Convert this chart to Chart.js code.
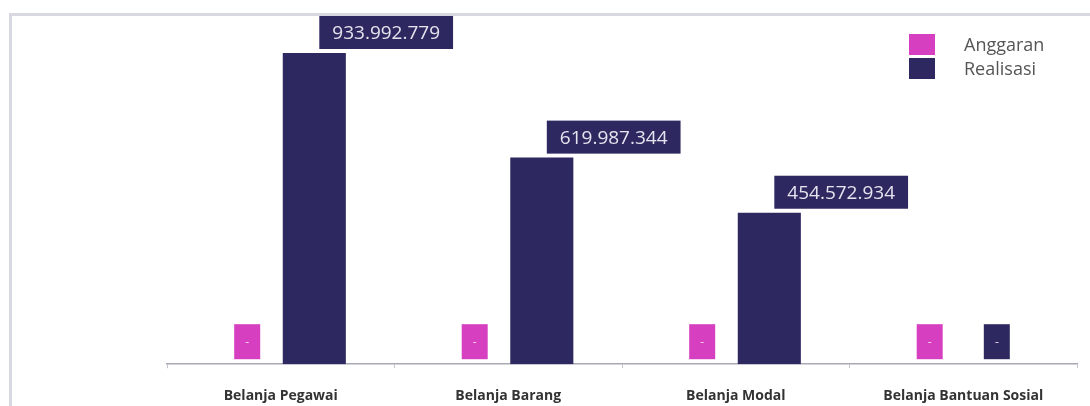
<!DOCTYPE html>
<html lang="id">

<head>
    <meta charset="UTF-8">
    <title>Anggaran dan Realisasi Belanja</title>
    <script src="https://cdn.jsdelivr.net/npm/chart.js@4.4.1/dist/chart.umd.min.js"></script>
    <style>
        html, body {
            margin: 0;
            padding: 0;
            background: #ffffff;
        }

        .frame {
            position: absolute;
            left: 9px;
            top: 13px;
            width: 1100px;
            height: 420px;
            border-left: 3px solid #d8d8e0;
            border-top: 3px solid #d8d8e0;
        }

        .chart-box {
            position: absolute;
            left: 0;
            top: 0;
            width: 1090px;
            height: 406px;
        }
    </style>
</head>

<body>
    <div class="frame"></div>
    <div class="chart-box">
        <canvas id="belanjaChart"></canvas>
    </div>

    <script>
        // Data
        const categories = ['Belanja Pegawai', 'Belanja Barang', 'Belanja Modal', 'Belanja Bantuan Sosial'];
        const anggaran = [0, 0, 0, 0];
        const realisasi = [933992779, 619987344, 454572934, 0];
        const seriesNames = ['Anggaran', 'Realisasi'];

        const MAGENTA = '#d63fc0';
        const NAVY = '#2d2860';

        function formatRibuan(v) {
            return String(v).replace(/\B(?=(\d{3})+(?!\d))/g, '.');
        }

        // Value labels: navy tag above each bar, small "-" tag when the value is zero
        const labelPlugin = {
            id: 'valueTags',
            afterDatasetsDraw(chart) {
                const ctx = chart.ctx;
                const base = chart.scales.y.getPixelForValue(0);
                ctx.save();
                chart.data.datasets.forEach((ds, di) => {
                    const meta = chart.getDatasetMeta(di);
                    meta.data.forEach((bar, i) => {
                        const v = ds.data[i];
                        if (!v) {
                            ctx.fillStyle = ds.backgroundColor;
                            ctx.fillRect(bar.x - 13, base - 40, 26, 35);
                            ctx.fillStyle = '#f0d8ee';
                            ctx.font = '12px "Open Sans"';
                            ctx.textAlign = 'center';
                            ctx.textBaseline = 'middle';
                            ctx.fillText('-', bar.x, base - 22);
                            return;
                        }
                        const txt = formatRibuan(v);
                        ctx.font = '19px "Open Sans"';
                        const w = ctx.measureText(txt).width + 26;
                        const h = 33;
                        const left = bar.x + 5;
                        const top = bar.y - 4 - h;
                        ctx.fillStyle = NAVY;
                        ctx.fillRect(left, top, w, h);
                        ctx.fillStyle = '#e4e4ee';
                        ctx.textAlign = 'center';
                        ctx.textBaseline = 'middle';
                        ctx.fillText(txt, left + w / 2, top + h / 2 + 1);
                    });
                });
                ctx.restore();
            }
        };

        // Legend stacked at the top right, over the plot area
        const legendPlugin = {
            id: 'cornerLegend',
            afterDraw(chart) {
                const ctx = chart.ctx;
                ctx.save();
                const rows = [{ y: 34, h: 21 }, { y: 58, h: 21 }];
                chart.data.datasets.forEach((ds, di) => {
                    const r = rows[di];
                    ctx.fillStyle = ds.backgroundColor;
                    ctx.fillRect(909, r.y, 26, r.h);
                    ctx.fillStyle = '#555555';
                    ctx.font = '18px "Open Sans"';
                    ctx.textAlign = 'left';
                    ctx.textBaseline = 'middle';
                    ctx.fillText(ds.label, 964, r.y + r.h / 2 + 1);
                });
                ctx.restore();
            }
        };

        const ctx = document.getElementById('belanjaChart').getContext('2d');
        const chart = new Chart(ctx, {
            type: 'bar',
            data: {
                labels: categories,
                datasets: [{
                    label: seriesNames[0],
                    data: anggaran,
                    backgroundColor: MAGENTA
                }, {
                    label: seriesNames[1],
                    data: realisasi,
                    backgroundColor: NAVY
                }]
            },
            options: {
                responsive: true,
                maintainAspectRatio: false,
                animation: false,
                layout: {
                    padding: { left: 167, right: 13, top: 31, bottom: -17 }
                },
                datasets: {
                    bar: {
                        categoryPercentage: 0.59,
                        barPercentage: 0.94
                    }
                },
                scales: {
                    x: {
                        border: { display: true, color: '#a8a8b6', width: 1.5 },
                        grid: {
                            display: true,
                            drawOnChartArea: false,
                            tickLength: 4,
                            color: '#c4c4cc'
                        },
                        ticks: {
                            padding: 19,
                            color: '#333333',
                            font: { family: '"Open Sans"', size: 14, weight: 'bold' }
                        }
                    },
                    y: {
                        display: false,
                        min: 0,
                        max: 1000000000
                    }
                },
                plugins: {
                    legend: { display: false },
                    tooltip: { enabled: false }
                }
            },
            plugins: [labelPlugin, legendPlugin]
        });
    </script>
</body>

</html>
